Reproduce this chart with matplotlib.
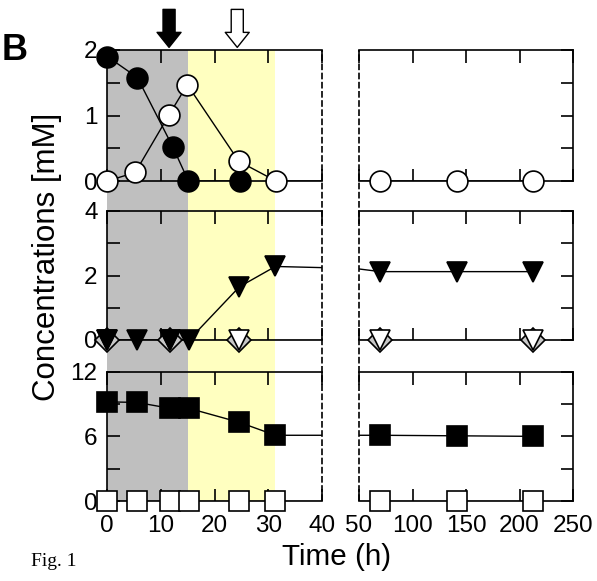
import matplotlib.pyplot as plt

plt.rcParams['font.family'] = ['Liberation Sans', 'DejaVu Sans']

## Data ##
# top panel: circles
t_circ_fill = [0, 5.6, 12.2, 15.1, 24.8]
circ_fill = [1.90, 1.58, 0.52, 0.0, 0.0]
t_circ_open = [0, 5.2, 11.5, 14.9, 24.5, 31.4, 70, 142, 213]
circ_open = [0.0, 0.13, 1.01, 1.47, 0.30, 0.0, 0.0, 0.0, 0.0]

# middle panel: triangles
t_main = [0, 5.5, 11.7, 15.2, 24.6, 31.3, 70, 142, 213]
tri_fill = [0.0, 0.0, 0.0, 0.0, 1.65, 2.28, 2.12, 2.12, 2.12]
t_tri_open = [0, 11.7, 24.6, 70, 213]
tri_open = [0.0, 0.0, 0.0, 0.0, 0.0]

# bottom panel: squares
sq_fill = [9.2, 9.15, 8.6, 8.6, 7.3, 6.1, 6.1, 6.05, 6.0]
sq_open = [0.0, 0.0, 0.0, 0.0, 0.0, 0.0, 0.0, 0.0, 0.0]

# phases and sampling arrows (h)
dark_phase = (0, 15)
light_phase = (15, 31.3)
arrow_fill_t = 11.5
arrow_open_t = 24.2

left_xticks = [0, 10, 20, 30, 40]
right_xticks = [50, 100, 150, 200, 250]
row_ylims = [(0, 2), (0, 4), (0, 12)]
row_yticks = [[0, 0.5, 1, 1.5, 2], [0, 1, 2, 3, 4], [0, 3, 6, 9, 12]]
row_ylabels = [['0', '', '1', '', '2'], ['0', '', '2', '', '4'], ['0', '', '6', '', '12']]

## Layout (pixels) ##
W, H = 597, 581
fig = plt.figure(figsize=(W / 100, H / 100), dpi=100)

def box(x0, x1, y0, y1):
    return [x0 / W, 1 - y1 / H, (x1 - x0) / W, (y1 - y0) / H]

cols = [(107.3, 322.1, (0, 40)), (359, 573, (50, 250))]
rows = [(50, 181), (211, 340), (371.7, 501)]

# shading + dashed axis breaks behind the panels
bg_l = fig.add_axes(box(cols[0][0], cols[0][1], rows[0][0], rows[2][1]))
bg_l.set_xlim(0, 40)
bg_l.axis('off')
bg_l.axvspan(*dark_phase, color='#bfbfbf', lw=0)
bg_l.axvspan(*light_phase, color='#ffffc0', lw=0)
bg_l.axvline(40, color='k', lw=1.2, ls=(0, (4, 1.5)), clip_on=False)

bg_r = fig.add_axes(box(cols[1][0], cols[1][1], rows[0][0], rows[2][1]))
bg_r.set_xlim(50, 250)
bg_r.axis('off')
bg_r.axvline(50, color='k', lw=1.2, ls=(0, (4, 1.5)), clip_on=False)

def series(ax, t, y, marker, face, ms, z, line=True):
    if line:
        ax.plot(t, y, '-', color='k', lw=1, zorder=2)
    lo, hi = ax.get_xlim()
    tt = [a for a in t if lo <= a <= hi]
    yy = [b for a, b in zip(t, y) if lo <= a <= hi]
    ax.plot(tt, yy, ls='none', marker=marker, mfc=face, mec='k', ms=ms,
            mew=1.2, clip_on=False, zorder=z)

axes = []
for r, (y0, y1) in enumerate(rows):
    row = []
    for c, (x0, x1, xl) in enumerate(cols):
        ax = fig.add_axes(box(x0, x1, y0, y1))
        ax.patch.set_visible(False)
        ax.set_xlim(*xl)
        ax.set_ylim(*row_ylims[r])
        ticks = left_xticks if c == 0 else right_xticks
        ax.set_xticks(ticks)
        ax.set_xticklabels([str(v) for v in ticks])
        ax.set_yticks(row_yticks[r])
        ax.tick_params(direction='in', length=9, width=1.2, labelsize=17.5,
                       top=True, bottom=True, labelbottom=(r == 2))
        ax.tick_params(axis='x', pad=10)
        ax.tick_params(axis='y', pad=7)
        for s in ax.spines.values():
            s.set_linewidth(1.2)
        if c == 0:
            ax.spines['right'].set_visible(False)
            ax.set_yticklabels(row_ylabels[r])
            ax.tick_params(axis='y', left=True, right=False)
        else:
            ax.spines['left'].set_visible(False)
            ax.tick_params(axis='y', left=False, right=True, labelleft=False)
        row.append(ax)
    axes.append(row)

for ax in axes[0]:
    series(ax, t_circ_fill, circ_fill, 'o', 'k', 15, 4)
    series(ax, t_circ_open, circ_open, 'o', 'white', 15, 5)

for ax in axes[1]:
    series(ax, t_tri_open, tri_open, 'D', '#c8c8c8', 12.5, 3, line=False)
    series(ax, t_tri_open, tri_open, 'v', 'white', 14, 4)
    series(ax, t_main, tri_fill, 'v', 'k', 14, 5)

for ax in axes[2]:
    series(ax, t_main, sq_fill, 's', 'k', 14, 4)
    series(ax, t_main, sq_open, 's', 'white', 14, 5)

# sampling arrows above the top panel
top = axes[0][0]
for t, fc in [(arrow_fill_t, 'k'), (arrow_open_t, 'white')]:
    top.annotate('', xy=(t, 2.04), xytext=(t, 2.62),
                 arrowprops=dict(arrowstyle='simple,head_length=0.72,head_width=1.15,tail_width=0.58',
                                 fc=fc, ec='k', lw=1, shrinkA=0, shrinkB=0, mutation_scale=15),
                 annotation_clip=False)

fig.text(0.079, 1 - 257 / H, 'Concentrations [mM]', rotation=90, fontsize=22.5,
         ha='center', va='center')
fig.text(337 / W, 1 - 557 / H, 'Time (h)', fontsize=21.3, ha='center', va='center')
fig.text(2 / W, 1 - 51 / H, 'B', fontsize=26, fontweight='bold', ha='left', va='center')
fig.text(31 / W, 1 - 562 / H, 'Fig. 1', fontsize=14, family='Liberation Serif',
         ha='left', va='center')

fig.savefig('out.png', dpi=100)
